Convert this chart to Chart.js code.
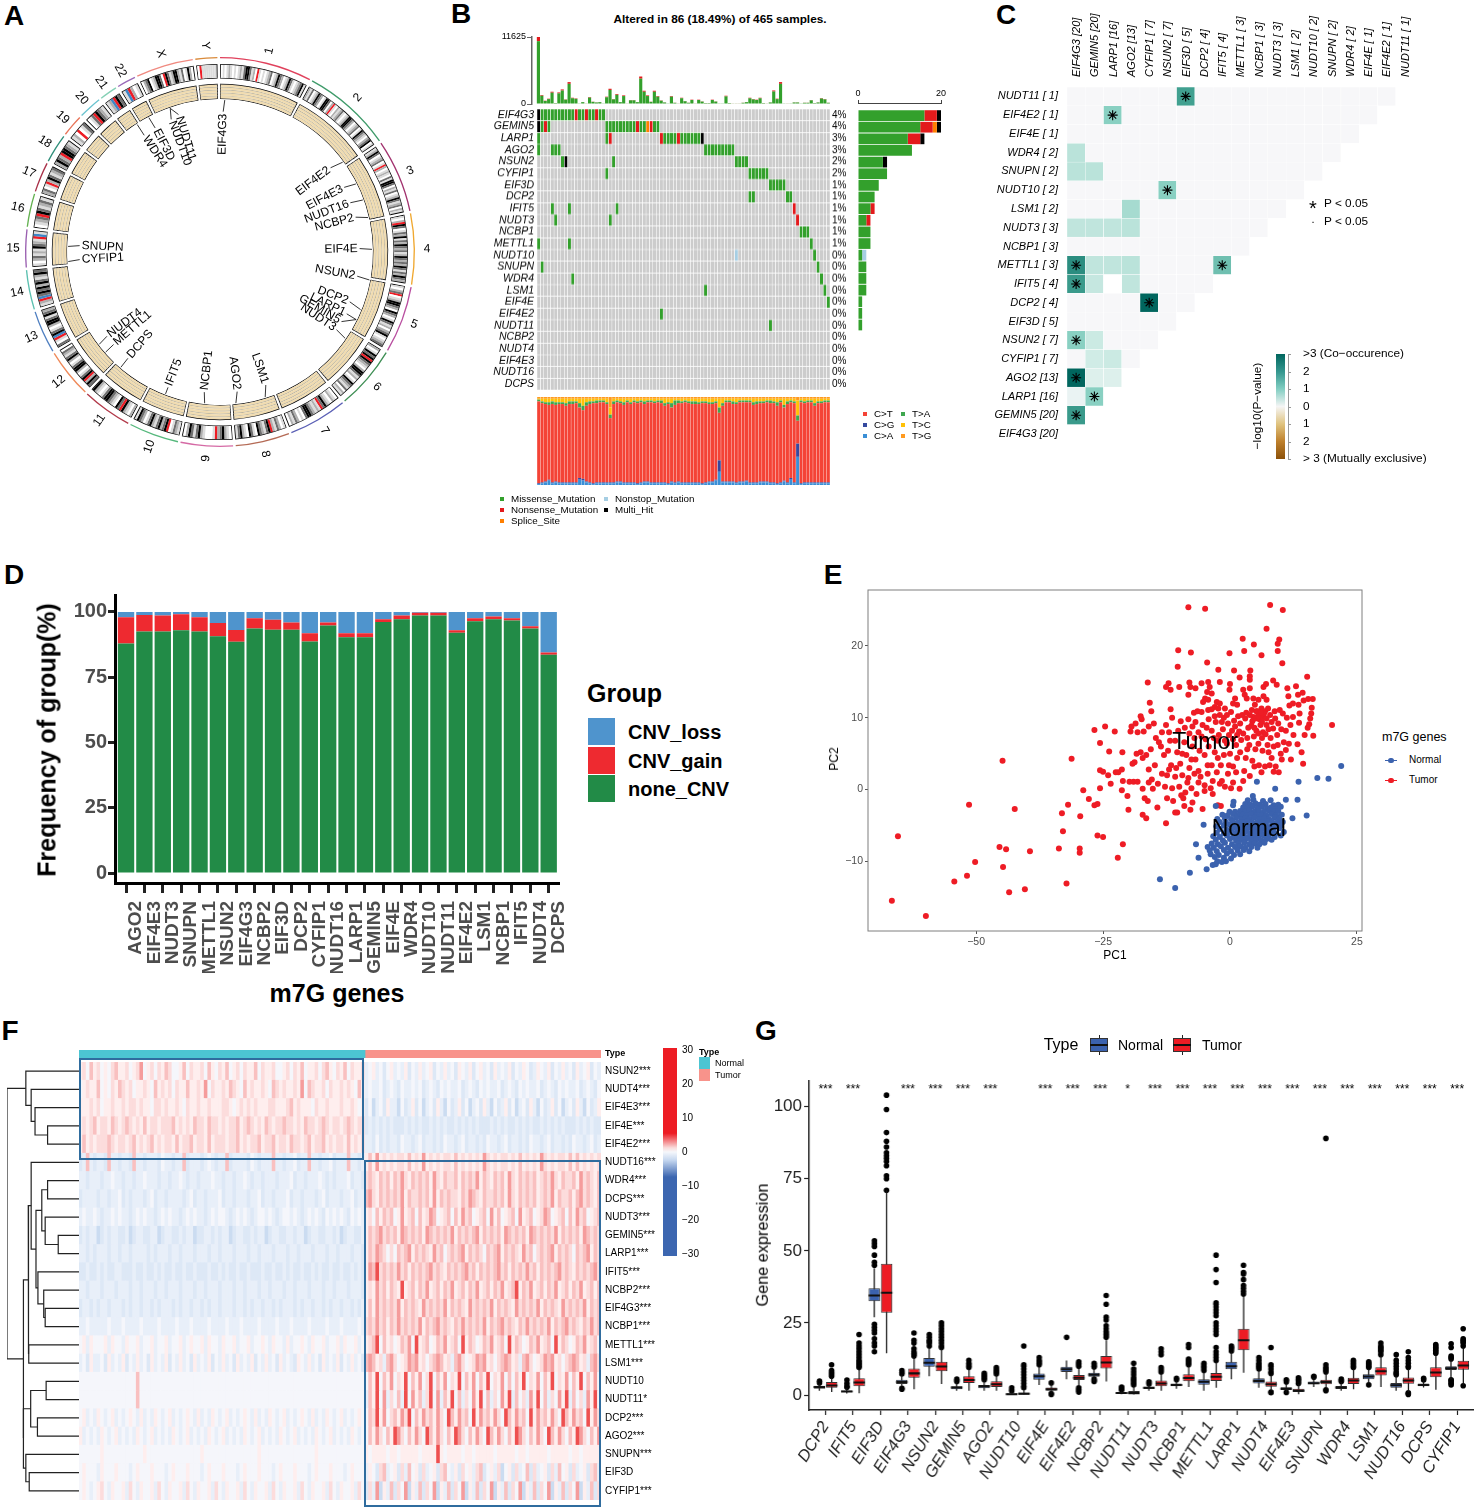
<!DOCTYPE html>
<html>
<head>
<meta charset="utf-8">
<script src="https://cdn.jsdelivr.net/npm/chart.js@4/dist/chart.umd.min.js"></script>
<style>
  html, body { margin: 0; background: #fff; }
  #page { position: relative; width: 1476px; height: 1509px; overflow: hidden; background: #fff; font-family: 'Liberation Sans', Arial, sans-serif; }
  #page canvas { position: absolute; }
  .t { position: absolute; white-space: nowrap; line-height: 1; color: #000; }
  .sw { position: absolute; }
</style>
</head>
<body>
<div id="page"></div>
<script>
// ---------- A: circos ----------
const chromNames = ['1','2','3','4','5','6','7','8','9','10','11','12','13','14','15','16','17','18','19','20','21','22','X','Y'];
const chromLengths = [249,243,198,191,181,171,159,146,141,135,135,133,115,107,102,90,81,78,59,63,48,51,155,59];
const chromGap = 7;
const chromBands = [
  'wlwlglwlwlgldkkdlgwrlwlwlgdwlgkdgwlgkdlwlgdkl',
  'gldwlgkdgwlkkdwgrlwglgdlwlgkkdgwlgdwlkdglwgdkwl',
  'lgkdwlgdwlrgwlglwdlkkdwgldwlgkdlgdwgl',
  'lwgrkdwldgkldgkdgdlgkdgdgkdldgkdg',
  'lwgdrwlgkkdgwkdgwlkdlgwgdklwlgd',
  'gwlkdkrkdglwgkkdlgwlkdgldwgl',
  'wlgwlgkdrlglgdkkdwlwgdlgw',
  'lwgdlgrkdlgdkwldkwlgkdl',
  'wlgkdgrlwwwlgkdldkgw',
  'lgdlwrkdgkdlgkdlwgdkl',
  'gwlgkrdkwlgdkkdlwlgk',
  'dkgrkdlwgkkdlwgkdlgdw',
  'dwlrbkdlwgkkdlkdg',
  'lgrbdkdkgkdlgkd',
  'lwgdlglkdglrbl',
  'wlgdrkdlgdl',
  'gdwlrgkdlgd',
  'gkdgrkkdgl',
  'lgwrwld',
  'wldrkdgl',
  'lgbrkd',
  'lbrgwl',
  'wgdkwlgkkdwrkdlgkkgldwlkgw',
  'wrlllllll'
];
const chromColors = ['#e0415c','#3f9b6a','#a2336f','#f0a830','#b94fa0','#3f8f55','#5a5fb5','#b46a55','#d56aa5','#55b87c','#b23a4a','#ef8a5a','#4f7fc0','#5cc0b0','#9a5fb0','#62b04f','#a83048','#2f8f7a','#e8755a','#6cc4d0','#85d0b5','#9a6ab8','#f08a80','#d98a3a'];
const bandColors = { w: '#ffffff', l: '#dcdcdc', g: '#b0b0b0', d: '#6f6f6f', k: '#000000', r: '#ee1c25', b: '#3f86c6' };
const geneNames = ['EIF4G3','EIF4E2','EIF4E3','NUDT16','NCBP2','EIF4E','NSUN2','DCP2','LARP1','GEMIN5','NUDT3','LSM1','AGO2','NCBP1','IFIT5','DCPS','METTL1','NUDT4','CYFIP1','SNUPN','WDR4','EIF3D','NUDT11','NUDT10'];
const geneLocusDeg = [1.8,53.8,63.4,70,76.9,89,100.6,112.3,116.4,116.4,124.6,162.7,174,185.8,201,220.7,228.8,232.6,266.4,272.1,327,332.1,340.9,340.9];
const geneLabelDeg = [1.3,52.7,62.5,69.3,75.6,88.6,100,111,116,119.8,123.7,161,173,186.4,201,220.9,229,233.3,266.9,272.6,327,332.4,343.2,339.8];
const geneLabelRad = [117.7,117,118,114,118,121,117,121,120,115,118,123,122,119,129,122,116,119,117.5,117.5,119.5,121,118.7,116];

// ---------- B: oncoplot ----------
const oncoGenes = ['EIF4G3','GEMIN5','LARP1','AGO2','NSUN2','CYFIP1','EIF3D','DCP2','IFIT5','NUDT3','NCBP1','METTL1','NUDT10','SNUPN','WDR4','LSM1','EIF4E','EIF4E2','NUDT11','NCBP2','NUDT4','EIF4E3','NUDT16','DCPS'];
const oncoPct = ['4%','4%','3%','3%','2%','2%','1%','1%','1%','1%','1%','1%','0%','0%','0%','0%','0%','0%','0%','0%','0%','0%','0%','0%'];
const oncoHits = [
  [[0,0,'H'],[1,10,'M'],[11,11,'N'],[12,13,'M'],[14,14,'N'],[15,16,'M'],[17,17,'N'],[18,19,'M']],
  [[0,0,'H'],[1,1,'M'],[2,2,'N'],[3,3,'M'],[20,28,'M'],[29,29,'N'],[30,31,'M'],[32,32,'S'],[33,33,'N'],[34,35,'M']],
  [[0,0,'M'],[20,20,'M'],[21,21,'N'],[36,36,'N'],[37,40,'M'],[41,41,'N'],[42,47,'M'],[48,48,'H']],
  [[0,0,'M'],[4,6,'M'],[49,57,'M']],
  [[7,7,'M'],[8,8,'H'],[22,22,'M'],[58,61,'M']],
  [[20,20,'M'],[62,67,'M']],
  [[68,72,'M']],
  [[62,63,'M'],[73,74,'M']],
  [[4,4,'M'],[9,9,'M'],[23,23,'M'],[75,75,'N']],
  [[5,5,'M'],[21,21,'M'],[76,76,'N']],
  [[77,79,'M']],
  [[0,0,'M'],[9,9,'M'],[80,80,'M']],
  [[58,58,'P'],[81,81,'M']],
  [[1,1,'M'],[82,82,'M']],
  [[10,10,'M'],[83,83,'M']],
  [[49,49,'M'],[84,84,'M']],
  [[85,85,'M']],
  [[36,36,'M']],
  [[68,68,'M']],
  [],[],[],[],[]
];
const tmbMissense = [10900,1430,530,850,1960,160,1850,2330,740,3500,1000,900,55,320,105,1110,370,265,320,55,1170,2440,800,1590,320,1380,105,640,640,320,4400,2120,1380,370,2120,1270,580,265,55,1270,210,105,1000,480,210,690,105,690,420,160,160,690,420,55,55,1325,160,105,105,105,210,320,1000,800,690,1000,160,105,265,2170,850,3500,55,105,55,265,265,55,210,210,640,160,265,950,800,210];
const tmbNonsense = [725,120,45,70,170,15,160,200,60,300,85,75,5,25,10,95,30,25,25,5,100,205,70,135,25,115,10,55,55,25,370,180,115,30,180,110,50,25,5,110,20,10,85,40,20,60,10,60,35,15,15,60,35,5,5,110,15,10,10,10,20,25,85,70,60,85,15,10,25,180,75,300,5,10,5,25,25,5,20,20,55,15,25,80,70,20];
const sideMissense = [16,15,12,13,6,7,5,4,3,2,3,3,1,2,2,2,1,1,1,0,0,0,0,0];
const sideNonsense = [3,3,3,0,0,0,0,0,1,1,0,0,0,0,0,0,0,0,0,0,0,0,0,0];
const sideSplice   = [0,1,0,0,0,0,0,0,0,0,0,0,0,0,0,0,0,0,0,0,0,0,0,0];
const sideNonstop  = [0,0,0,0,0,0,0,0,0,0,0,0,1,0,0,0,0,0,0,0,0,0,0,0];
const sideMulti    = [1,1,1,0,1,0,0,0,0,0,0,0,0,0,0,0,0,0,0,0,0,0,0,0];
const titvCA = [1,2,3,5,2,3,2,2,2,2,2,2,6,5,3,2,1,2,2,2,2,2,2,3,3,2,2,2,2,1,2,3,3,2,2,2,2,2,1,3,2,3,2,2,2,2,2,2,1,2,3,3,5,15,3,3,3,3,2,3,3,4,2,2,2,3,3,3,2,2,1,2,4,2,6,2,32,1,2,2,2,2,2,2,2,2];
const titvCG = [1,1,1,1,1,1,1,1,1,1,1,1,2,2,1,1,1,1,1,1,1,1,1,1,1,1,1,1,1,1,1,1,1,1,1,1,1,1,1,1,1,1,1,1,1,1,1,1,1,1,1,1,1,13,1,1,1,1,1,1,1,1,1,1,1,1,1,1,1,1,1,1,1,1,2,1,15,1,1,1,1,1,1,1,1,1];
const titvCT = [93,90,88,85,89,87,89,89,87,89,89,90,80,78,86,89,91,90,91,91,89,73,89,90,89,88,91,89,91,91,91,88,90,91,90,91,90,87,90,84,88,89,90,91,90,89,89,89,91,90,88,88,87,54,86,90,90,88,89,90,90,89,91,88,89,89,89,90,90,90,88,91,83,89,86,90,26,92,90,91,91,87,90,90,91,91];
const titvTA = [2,2,2,3,3,3,2,2,3,3,3,2,5,5,4,3,2,3,2,2,2,4,3,2,2,3,2,2,2,2,2,3,2,2,2,2,3,3,2,5,5,3,2,2,2,3,3,2,2,2,2,2,2,6,3,2,2,3,2,2,2,2,2,3,3,2,2,2,3,2,4,2,3,3,2,2,6,2,2,2,2,3,2,2,2,2];
const titvTC = [1,3,4,4,3,4,4,4,5,3,3,3,5,8,4,3,3,2,2,2,4,8,3,2,3,4,2,4,2,3,2,3,2,2,3,2,2,5,4,5,2,2,3,2,3,3,3,4,3,3,4,4,3,10,5,2,2,3,4,2,2,2,2,4,3,3,3,2,2,3,4,2,7,3,2,3,17,2,3,2,2,5,3,3,2,2];
const titvTG = [2,2,2,2,2,2,2,2,2,2,2,2,2,2,2,2,2,2,2,2,2,12,2,2,2,2,2,2,2,2,2,2,2,2,2,2,2,2,2,2,2,2,2,2,2,2,2,2,2,2,2,2,2,2,2,2,2,2,2,2,2,2,2,2,2,2,2,2,2,2,2,2,2,2,2,2,4,2,2,2,2,2,2,2,2,2];

// ---------- C: co-occurrence ----------
const coCols = ['EIF4G3 [20]','GEMIN5 [20]','LARP1 [16]','AGO2 [13]','CYFIP1 [ 7]','NSUN2 [ 7]','EIF3D [ 5]','DCP2 [ 4]','IFIT5 [ 4]','METTL1 [ 3]','NCBP1 [ 3]','NUDT3 [ 3]','LSM1 [ 2]','NUDT10 [ 2]','SNUPN [ 2]','WDR4 [ 2]','EIF4E [ 1]','EIF4E2 [ 1]','NUDT11 [ 1]'];
const coRows = ['NUDT11 [ 1]','EIF4E2 [ 1]','EIF4E [ 1]','WDR4 [ 2]','SNUPN [ 2]','NUDT10 [ 2]','LSM1 [ 2]','NUDT3 [ 3]','NCBP1 [ 3]','METTL1 [ 3]','IFIT5 [ 4]','DCP2 [ 4]','EIF3D [ 5]','NSUN2 [ 7]','CYFIP1 [ 7]','AGO2 [13]','LARP1 [16]','GEMIN5 [20]','EIF4G3 [20]'];
const coValues = [
  [0,0,0,0,0,0,2.1,0,0,0,0,0,0,0,0,0,0,0],
  [0,0,1.5,0,0,0,0,0,0,0,0,0,0,0,0,0,0],
  [0,0,0,0,0,0,0,0,0,0,0,0,0,0,0,0],
  [1,0,0,0,0,0,0,0,0,0,0,0,0,0,0],
  [1,1,0,0,0,0,0,0,0,0,0,0,0,0],
  [0,0,0,0,0,1.5,0,0,0,0,0,0,0],
  [0,0,0,1.2,0,0,0,0,0,0,0,0],
  [0.9,0.9,0.9,1,0,0,0,0,0,0,0],
  [0,0,0,0,0,0,0,0,0,0],
  [2.4,0.9,0.9,1,0,0,0,0,1.7],
  [2.2,0.8,null,0.9,0,0,0,0],
  [0,0,0,0,3,0,0],
  [0,0,0,0,0,0],
  [1.5,0.7,0,0,0],
  [0,0.6,0.7,0],
  [3,0.4,0.4],
  [0.2,1.5],
  [2.2],
  []
];
const coStars = [[0,6],[1,2],[5,5],[9,0],[9,8],[10,0],[11,4],[13,0],[15,0],[16,1],[17,0]];

// ---------- D: CNV ----------
const cnvGenes = ['AGO2','EIF4E3','NUDT3','SNUPN','METTL1','NSUN2','EIF4G3','NCBP2','EIF3D','DCP2','CYFIP1','NUDT16','LARP1','GEMIN5','EIF4E','WDR4','NUDT10','NUDT11','EIF4E2','LSM1','NCBP1','IFIT5','NUDT4','DCPS'];
const cnvNone = [87.9,92.5,92.5,93,92.5,90.7,88.6,93.7,93.2,93.2,88.7,94.8,90.3,90.3,96.2,97.2,98.6,98.6,92,96.4,97.2,96.7,93.7,83.6];
const cnvGain = [10.1,6.3,6.1,6.1,5.5,5.1,4.5,3.9,3.8,2.8,3.1,1.2,1.5,1.5,1,1.4,1.1,1.1,1,1.2,1.1,0.9,0.8,0.9];
const cnvLoss = [2,1.2,1.4,0.9,2,4.2,6.9,2.4,3,4,8.2,4,8.2,8.2,2.8,1.4,0.3,0.3,7,2.4,1.7,2.4,5.5,15.5];

// ---------- E: PCA ----------
const pcaTumor = [[-65.4,-6.5],[-66.6,-15.5],[-59.9,-17.6],[-54.3,-12.8],[-51.8,-12],[-50.2,-10.1],[-51.4,-2.1],[-44.8,4],[-45.4,-8],[-44.1,-8.3],[-44.7,-10.8],[-43.5,-14.3],[-42.4,-2.7],[-40.4,-13.9],[-39.4,-8.6],[-33.7,-8.2],[-32.9,-5.8],[-33.1,-3.3],[-32.2,-13.1],[-31.9,-2.1],[-31.2,4.3],[-29.6,-8.2],[-29.6,-8.8],[-29.5,-3.7],[-28.9,-0.1],[-27.8,-1.3],[-26.7,-2.2],[-26.1,-2],[-26.1,-6.4],[-25,-6.6],[-22.1,-9.5],[-21.1,-7.6],[-26.7,8.3],[-24.6,8.8],[-22.7,8.1],[-25.6,6.5],[-23.8,5.3],[-21.2,5.2],[-25.6,2.7],[-25,2.5],[-24,2],[-25.6,0.2],[-23.5,0.8],[-21.3,-0.1],[-22.5,2.4],[-22,2.4],[-21.3,2.8],[-21.1,1.2],
[-8.2,25.4],[-4.9,25.2],[7.9,25.7],[10.4,25],[7.2,22.4],[2.5,21],[4.7,20.2],[9.7,20.9],[9.4,20.3],[9.4,19.3],[2.8,19.3],[-0.1,19],[6.2,18.7],[-10.2,19.4],[-7.7,19.1],[-4.5,17.7],[10.3,17.6],[-10.3,17.1],[-2.3,16.7],[0.8,16.6],[4,16.6],[15.2,15.7],[1.9,15.6],[3.9,15.8],[3.9,15.3],[-16.2,14.9],[-12.1,14.8],[-12.6,14.3],[-11.7,13.9],[-10,14.3],[-8,14.9],[-7.8,14.3],[-8.2,13.2],[-6.8,14.1],[-5.6,14.8],[-4.3,15],[-4,14.3],[-4.5,13.6],[-3.6,13.4],[-4.9,12.7],[-4.3,12.5],[-5.3,12.2],[-2,15],[0,14.7],[-0.1,13.9],[2.6,13.9],[2.9,13.2],[3.3,12.7],[3.9,14.1],[6.6,14.3],[7.1,14.7],[8.5,15.2],[9.2,14.6],[11.3,14.1],[13,14.4],[11.5,13],[13.4,13.2],[14.3,13.5],[-15.8,12.1],[-15.5,10.9],[-11.7,11.2],[-2.6,12.2],[-2,12],[-3,11.5],[-2.3,11.3],[-3.6,11.2],[-4.3,11.1],[-1,11.3],[1,12.7],[1.4,11.8],[0.6,12],
[4.6,12.7],[5.6,12.5],[6.6,13],[7.2,12.5],[4.9,11.8],[4.3,11.1],[5.2,10.9],[6.2,11.3],[6.9,10.9],[7.5,11.3],[5.9,10.4],[4.6,10.1],[3.9,10.4],[6.6,10.1],[7.9,10.4],[8.8,10.9],[9.8,11.1],[10.4,10.6],[11.7,11.7],[12.4,12],[13.5,11.8],[14.5,12.4],[15.4,12.6],[16.3,12.6],[16.1,11.4],[16,10.6],[15.8,9.9],[15.6,9.1],[15.3,8.6],[13.7,10.6],[12.4,10.1],[11.2,10],[11.9,9],[13.6,9.3],[14.7,7.6],[16.4,7.5],[20.1,9],[13.3,6.3],[14.1,5.2],[14.4,3.6],[12,4.2],[11,5.5],[10.6,6.6],[10,5],[9,3.2],[9.6,2.4],[8.6,2.5],[10.2,4.2],[9.3,7.6],[8.5,8.5],[8,7.2],[7.2,9],[6.5,8],[6,9],[5.2,8.2],[4.4,9.5],[4.7,7.4],[3.6,8.6],[3,9.9],[2.6,7.8],[2,9.2],[1.6,10.2],[0.8,9.6],[0.4,8.2],[-0.4,9.2],[-1.2,10],[-1.4,8.4],[-2.2,7.6],[-2.8,9.4],[-3.6,8.2],[-4.2,9.8],[-4.8,7],[-5.6,10.8],[-6.4,10.9],[-7.1,10.7],[-7.4,8.8],[-8.2,9.8],[-8.9,8.6],[-9.7,9.5],[-10.2,8.2],[-11.4,10],[-12,8],[-12.6,9],[-14,6.6],[-14.6,7.2],[-15.6,5.6],[-16.5,4.8],[-17.2,4.4],[-17.6,5.2],[-18.4,5],[-18.8,3.8],[-19.2,3.6],[-17,8.1],[-17.4,9.8],[-17.6,10.2],[-18.6,9.2],[-19.4,8.8],[-18.2,8],[-19.6,8.1],
[-13.6,6],[-13,4.8],[-12.2,5.4],[-11.6,3.4],[-10.4,5.2],[-9.8,3.6],[-9,6.6],[-8.6,4.8],[-8,3],[-7.4,6],[-6.8,4.2],[-6.2,2.6],[-5.6,7.4],[-5,4.8],[-4.2,6],[-3.6,3.4],[-3,5.2],[-2.4,6.8],[-1.8,3.4],[-1.2,4.8],[-0.6,6.4],[0,5],[0.6,3.2],[1.2,6.2],[2,5.2],[2.8,2.6],[3.4,5.6],[3.9,1.9],[4.4,4],[5,5.6],[5.7,3.4],[6.4,5.4],[6.9,3.2],[7.6,5.2],[8.2,4.4],[8.6,6],
[-16,2.8],[-15.4,1.4],[-14.8,3.4],[-14.2,0.8],[-13.4,2.2],[-12.8,0.4],[-12,2.8],[-11.4,0.2],[-10.8,1.8],[-10,0.4],[-9.4,2],[-8.8,-0.4],[-8.2,1.6],[-7.6,0.2],[-7,2.2],[-6.6,-0.6],[-5.8,1.8],[-5,0.6],[-4.4,2.2],[-3.4,1.2],[-2.6,2.4],[-2,0.8],[-1.6,1.2],[0.2,0.2],[0.6,1],[1.9,0.1],[-19.8,1.1],[-19,1.1],[-18.2,1.1],[-17.2,0.1],[-16.8,-1.2],[-16.2,-1.6],[-16,1],[-15.2,0.1],[-20,-2.8],[-20.2,-0.9],[-17.2,-3.5],[-16.5,-4],[-14.3,-2.5],[-12.6,-4.7],[-10.8,-3.2],[-10.4,-3.2],[-9.6,-0.8],[-9,-2.3],[-7.8,-2.8],[-7.4,-1.8],[-5.4,-2.7],[-3.4,-0.6],[-2.4,-2.2],[-1.8,-2.3],[-12.4,-1.2],[-11.2,-1.6],[-9.2,-1.2],[-5,-0.2],
[5.4,10.9],[5.8,9.8],[6.3,9.4],[6.7,10.6],[7.2,9.9],[5,9.9],[5.5,10.2],[6.1,10.7],[4.2,8.9],[4.8,8.6],[5.6,7.8],[6.3,7.2],[7,7.7],[7.6,8.4],[8.2,9.4],[8.9,9.9],[9.5,9.2],[10.1,8.4],[3.4,7.2],[2.2,6.9],[1.4,7.6],[0.6,7],[-0.2,7.6],[-1,6.8],[1,8.8],[1.8,8.1],[2.4,10.4],[3.2,10.7],[-0.6,10.4],[0.2,10.8],[-2,10.4],[-3,10.2],[-4.6,8.6],[-5.4,9],[-6.2,8],[-6.8,9.4],[-7,7.2],[-8,7.8],[-3.2,7.2],[-1.6,9.4],[11,8.2],[12.5,7.6],[11.6,6.4],[9.4,6.2],[7.4,6.2],[5.6,6.4],[3.8,6.2],[3.1,4.4],[1.4,4.4],[-0.2,3.4],[4.8,3.2],[6.2,2.4],[7.8,3.4],[-2.4,4.4],[-4.4,3.4],[-6,5.4],[-7.6,4.2],[-9.4,5],[-10.8,6.8],[-11.8,6.8],[-13.4,8],[-15,9.2],[-16,8.8],[-12.4,2],[-10.6,3],[-8.4,1],[-6.2,1],[-3.8,0.2],[-1,0.4],[-0.4,2.2],[1.2,2.4],[2.6,1.2]
];
const pcaNormal = [[21.9,3.3],[17.2,1.6],[19.4,1.5],[5.3,1.1],[13.5,1.1],[8.9,0.1],[15.1,-3.6],[12.3,-4],[11,-1.4],[13.3,-1.4],[-13.8,-12.5],[-10.8,-13.7],[-7.9,-11.6],[-4.6,-11.1],[-6.7,-7.6],[-6.2,-9.5],[-5.2,-4.9],[-2.8,-2.3],
[4.5,-0.9],[3.5,-1.5],[4.6,-1.4],[6.5,-1.6],[8,-1.5],[0.7,-1.7],[0.6,-2.2],[3,-2],[4,-2.1],[5,-1.9],[5.8,-2.1],[7,-2],[8.6,-2.2],[9.5,-2.1],[-0.1,-3.1],[2.6,-2.5],[3.4,-2.6],[4.4,-2.4],[5.4,-2.6],[6.3,-2.4],[7.3,-2.6],[8.1,-2.5],[9.1,-2.7],[10,-2.4],[1,-3.1],[2,-3],[3,-3.1],[3.8,-2.9],[4.8,-3.1],[5.7,-3],[6.7,-3.1],[7.7,-2.9],[8.6,-3.1],[9.5,-3],[-1.5,-3.5],[-0.5,-3.6],[0.6,-3.4],[1.7,-3.6],[2.5,-3.5],[3.3,-3.6],[4.2,-3.4],[5.2,-3.6],[6.2,-3.5],[7.2,-3.6],[8.2,-3.4],[9.1,-3.6],[10.2,-3.5],[-2.5,-4.1],[-1,-4],[0.2,-4.1],[1.2,-3.9],[2.2,-4.1],[3,-4],[3.9,-4.1],[4.8,-3.9],[5.8,-4.1],[6.8,-4],[7.7,-4.1],[8.8,-3.9],[9.7,-4.1],[-2,-4.5],[-0.8,-4.6],[0.5,-4.4],[1.5,-4.6],[2.4,-4.5],[3.4,-4.4],[4.4,-4.6],[5.4,-4.5],[6.3,-4.6],[7.3,-4.4],[8.3,-4.5],[9.3,-4.6],[10.4,-4.5],[-2.7,-5.1],[-1.2,-5],[-0.1,-4.9],[1,-5.1],[2,-5],[3,-4.9],[4,-5.1],[5,-5],[6,-5.1],[7,-4.9],[8,-5.1],[9,-5],[10,-5],[-2,-5.5],[-0.7,-5.6],[0.5,-5.4],[1.5,-5.6],[2.5,-5.5],[3.5,-5.4],[4.5,-5.6],[5.5,-5.5],[6.5,-5.4],[7.5,-5.6],[8.5,-5.5],[9.7,-5.4],[-2.6,-6],[-1.2,-6.1],[0,-5.9],[1,-6.1],[2,-6],[3,-5.9],[4,-6.1],[5,-6],[6,-5.9],[7,-6.1],[8,-6],[9,-6.1],[10.6,-5.9],[-3.3,-6.5],[-2,-6.6],[-0.6,-6.4],[0.6,-6.6],[1.6,-6.5],[2.6,-6.4],[3.6,-6.6],[4.6,-6.5],[5.6,-6.6],[6.6,-6.4],[7.6,-6.5],[8.8,-6.6],[10,-6.4],[-2.8,-7],[-1.4,-7.1],[0,-6.9],[1.2,-7.1],[2.2,-7],[3.2,-6.9],[4.2,-7.1],[5.2,-7],[6.2,-7.1],[7.2,-6.9],[8.2,-7],[-3.6,-7.5],[-2.4,-7.6],[-1,-7.4],[0.4,-7.6],[1.6,-7.5],[2.8,-7.4],[3.8,-7.6],[4.8,-7.5],[5.8,-7.6],[6.8,-7.4],[-4.4,-8],[-3.2,-8.1],[-1.8,-7.9],[-0.4,-8.1],[1,-8],[2,-7.9],[3,-8.1],[4.2,-8],[5.4,-8.1],[-4,-8.5],[-2.6,-8.6],[-1.2,-8.4],[0.2,-8.6],[1.5,-8.5],[2.7,-8.4],[3.8,-8.6],[-3.8,-9],[-2.2,-9.1],[-0.6,-8.9],[0.8,-9.1],[2,-9],[-1.2,-9.5],[0.2,-9.6],[-3,-9.4],[-2.5,-10],[-1.6,-10.1],[-0.8,-10],[-3.4,-10.5],[-2.8,-10.4]
];

// ---------- F: heatmap ----------
const heatGenes = ['NSUN2***','NUDT4***','EIF4E3***','EIF4E***','EIF4E2***','NUDT16***','WDR4***','DCPS***','NUDT3***','GEMIN5***','LARP1***','IFIT5***','NCBP2***','EIF4G3***','NCBP1***','METTL1***','LSM1***','NUDT10','NUDT11*','DCP2***','AGO2***','SNUPN***','EIF3D','CYFIP1***'];
const heatNormal = [
  '56475645467556456845646576445746556475465745646557465564456465745564675465746556',
  '45655745465765645565475656465575565846556576547565565476565565847655646556565475',
  '55565645565565665655466565565465565565556654565656555665556756555465565556556545',
  '56567566576567656575665666756565766576656566756765657656676656576656765665676566',
  '57565666765665675656756566575667566575666566756566756675665766567566756566575656',
  '23732332733233273323332433233723332343233723333243233373323342337332334233373323',
  '33233323343323323343332332334323323334332332334323323332333423323334323233342332',
  '23333233233423233323423323333234233233342332333233423323334233233323423332334233',
  '34334323343433234343323434332343433234344323434323443432344343234343243434324343',
  '23233123233223123322331233223233122332323312332232331233223323312332233231233223',
  '33232333233233233332323332332333233323323332333233233323332332333233323323332332',
  '22322323223322232232232322322322322232232322322322232232232322322323223223223232',
  '33233323332333233233323323332333233233323332332333233233323323332333233233323332',
  '23323233233323233233232333232332332323323332332323323323233323233233232332332323',
  '33433333433343333433334333343334333343333433343333433334333433334333343334333343',
  '45354445354435445344534453445345445354435445344534454354435344543544534453544534',
  '34253342534352435342534352435342534352435342534352435342534325435342534352435342',
  '44444444444444447444444444444444444444444444444444444444444444444444444444444444',
  '44444444444444447444444444444444444444444444444444444444444444444444444444444444',
  '45343543453434543534354345343454353435434534345435343543453434543534354345343454',
  '53434354345343435434534343543453434354345343435434534343543453434354345343435434',
  '44444454444444444454444444444444445444444444444444544444444444444454444444444444',
  '45444354445444345444544434544454443454445444345444544434544454443454445444345444',
  '45434564354453643544536435445364354453643544536435445364354453643544536435445364'
];
const heatTumor = [
  '345342453435243534524353425435245342534352435423543524353425345243',
  '343342343243343423432434334234324343342343243433423432434334234324',
  '241342533142352413425314235241342531423524134253142352413425314235',
  '232323232223232322323232232323232223232322323232232323232223232322',
  '332423233243323423323243323423323243323423323243323423323243323423',
  '575856565665756585656566575656565865656656575656586565665757565656',
  '676576757686576767586576675767685765767586576767567686576675867657',
  '786576767685766767585767665768765766767586576767567685766757867657',
  '564757674585674756874567475867456748574567485674568745674758674567',
  '576786767587676758767676857676785767675876767587676768576767587676',
  '576876464767857676586746767857676476785767658674676785767647678576',
  '587967676867576767867657676786757676786757676867576767867657676786',
  '565867576595675768567576856757685675768567957685675768567576856757',
  '575867676857676586767685767658676768576765867676857676586767685767',
  '676867576867676857678676576867676857678676576867676857678676576867',
  '567947564576849567457685674957645768567495764576856749576457685674',
  '787563786456878564678756378645687856467875637864568785646787563786',
  '475947584659475846947584659475847594658474759465847594658475947584',
  '375948364739485736948375947364859473648593746385947364859374638594',
  '476958467586947586758649758674958675864975867495867586497586749586',
  '475864759864758649758647598647586497586475986475864975864759864758',
  '545555455455555455559545555455455555455555455455555455555455455555',
  '354267345263745263452674352645367245361452634726345263745263452673',
  '263815372648153726481537264815372648153726481537264815372648153726'
];
const heatPalette = ['#b3cbea','#cbdcf1','#dde8f6','#e8eff9','#f5f6fb','#feeeee','#fcdcdc','#f9c0c0','#f59c9c','#ee4f4f'];
const dendroMerges = [
  [3,0,4,0,65],[2,0,3.5,65,91],[1,0,2.75,91,99],[0,0,1.875,99,110],
  [6,0,7,0,65],[9,0,10,0,43],[8,0,9.5,43,70],[6.5,65,8.75,70,77],[13,0,14,0,70],[12,0,13.5,70,73],[11,0,12.75,73,85],[7.625,77,11.875,85,89],[5,0,9.75,89,99],[15,0,16,0,104],[7.375,99,15.5,104,105],
  [17,0,18,0,68],[19,0,20,0,86],[17.5,68,19.5,86,100],[22,0,23,0,103],[21,0,22.5,103,110],[18.5,100,21.75,110,115],[11.44,105,20.1,115,115],[0.94,110,15.77,115,149]
];

// ---------- G: box plots ----------
const boxGenes = ['DCP2','IFIT5','EIF3D','EIF4G3','NSUN2','GEMIN5','AGO2','NUDT10','EIF4E','EIF4E2','NCBP2','NUDT11','NUDT3','NCBP1','METTL1','LARP1','NUDT4','EIF4E3','SNUPN','WDR4','LSM1','NUDT16','DCPS','CYFIP1'];
const boxSig = ['***','***','','***','***','***','***','','***','***','***','*','***','***','***','***','***','***','***','***','***','***','***','***'];
const boxNormal = [[1.5,2.2,2.8,3.2,4],[0.5,1,1.2,1.6,2.5],[27,32.5,34.5,37,44],[3,3.8,4.5,5.3,7],[6.5,9.8,11.2,12.8,16.5],[1.5,2,2.6,3,4.5],[1.5,2.3,3,3.5,5],[0,0.1,0.3,0.6,1.2],[3.5,5.3,6.5,7.5,10],[5.5,8,8.9,9.8,12],[4.8,6.3,7,7.7,9.5],[0.3,0.4,0.7,0.9,1.5],[1.5,2.1,2.5,2.9,3.5],[2.2,3,3.5,4,5],[1.5,3.6,4.6,5.5,8],[5.5,8.9,10,11.5,15],[2.5,4,4.9,5.8,8.5],[0.8,1.7,2.2,2.7,4],[2.8,3.7,4.1,4.7,6],[1.5,2.1,2.6,3.1,4.5],[4,5.5,6.4,7.2,9],[1.5,2.5,3.4,4.2,6.5],[2.6,3,3.5,4,5],[5.5,8.7,9.3,10,12]];
const boxTumor = [[1,2.5,3.3,4.5,6],[0.6,3,4.3,5.8,9],[14.5,28.5,35.5,45.5,71],[2,6,7.5,9.2,13],[3.8,8.2,9.9,11.5,16],[1.5,4.2,5.2,6.5,9],[1.5,2.8,3.7,4.8,7],[0,0.1,0.4,0.9,2],[0.8,1.5,2,2.6,4],[3,5.2,6,6.9,9.5],[4.7,9.2,11.3,13.5,19],[0,0.2,0.7,1.4,3],[1.5,3,4,5,7.5],[2.8,4.8,5.9,7.2,10],[2.5,4.9,6.3,7.6,11.5],[7.7,15.5,19,23,34],[1.5,2.9,3.7,4.7,7],[0.3,1,1.5,2.2,3.8],[2.4,3.7,4.5,5.3,7.5],[2,3.8,5,6,9],[2.8,6.8,8.2,9.6,13.5],[1,3.9,5,6.1,9],[1.8,6.2,7.8,9.6,14],[3.5,8.8,10.2,11.9,16.5]];
const outNormal = [[4.2,4.8],[2.7,3,4,5.2],[15,17,18,19.5,21.5,22.5,23.5,24.5,45,46,48.5,51.5,52.5,53.5],[2,2.3,7.3,7.8,8.5],[17,18,18.5,19,20,21],[4.7,5,5.5],[5.3,5.8,6.3,6.8,7.5],[1.4,1.8,2.5],[10.5,11,11.5,12,13],[20],[4.7,5,5.5,9.7,10,10.5,11],[1.7,2,2.5,2.8],[3.8,4.2,4.6],[5.3,5.8],[8.5,9,9.5,10,10.5,11],[15.3,16,16.5,17],[9,9.5,10,10.5,11,12,13],[0.9,4.5,5,5.3],[6.2,6.5],[4.7,5,5.5],[3.5,9.5,10,10.5,11,11.5],[7,7.5,8,9,10,11,12,14],[5.2,5.8],[3.5,4,4.5,5,5.3,12.5,13,13.5,16.5,17.8]];
const outTumor = [[6.5,7,7.5,8,8.5,10.5],[9.5,10,10.5,11,11.5,12,13,14,15,16,17,18,21],[71,75,76,79.5,81,82,83,84,86,88,91,99,104],[13.5,14,14.5,15,16,18,19,21.5],[16.5,17,18,19,20,21,22,23,24,25],[9.5,10,10.5,11,12],[7.3,7.8,8.3,8.8,9.5],[2.5,3,4,5,6,7,8,9,10,10.5,17],[0.2,0.5,4.2],[1,1.5,2,2.5,10,10.5,11,11.5],[20,20.5,21,21.5,22,23,24,26,27,31.5,34.5],[3.5,4,4.5,5,5.5,6,7,8,9,11],[8,8.5,9,9.5,14,15,16],[10.5,11,11.5,12,12.5,16.5,17.5],[12,13,14,15,16.5,21,22,23,24,25,27.5,28.5,29.5,30.5,31.5,32,39,43.5,48.5],[35,36,37,38,40,42,42.5,45],[0.8,1,7.5,8,9,10,10.5,16.5],[4,4.5,5,5.5,6],[1.5,1.8,8,8.5,9,9.5,10.5,89],[9.5,10,10.5,11,11.5,12],[14,15,15.5,16,16.5,17,18],[0.2,0.5,0.8,9.5,10,11,12,13,15],[14.5,15,15.5,16,16.5,17,17.5],[3.2,17,18,18.5,19,19.5,23]];

// ---------- helpers ----------
const FONT = "'Liberation Sans', Arial, sans-serif";
const page = document.getElementById('page');
Chart.defaults.font.family = FONT;
Chart.defaults.color = '#000';

function text(str, x, y, o) {
  o = o || {};
  const el = document.createElement('div');
  el.className = 't';
  el.textContent = str;
  const ax = o.anchor === 'left' ? '0' : o.anchor === 'right' ? '-100%' : '-50%';
  el.style.left = x + 'px';
  el.style.top = y + 'px';
  el.style.fontSize = (o.size || 11) + 'px';
  if (o.bold) el.style.fontWeight = 'bold';
  if (o.italic) el.style.fontStyle = 'italic';
  if (o.color) el.style.color = o.color;
  el.style.transform = 'translate(' + ax + ',-50%)' + (o.rotate ? ' rotate(' + o.rotate + 'deg)' : '');
  page.appendChild(el);
}

function swatch(x, y, w, h, bg) {
  const el = document.createElement('div');
  el.className = 'sw';
  el.style.cssText = 'left:' + x + 'px;top:' + y + 'px;width:' + w + 'px;height:' + h + 'px;background:' + bg;
  page.appendChild(el);
  return el;
}

// plot rect is given exactly; margins (l,t,r,b) are room for the axes around it.
// every visible axis is pinned to the margin on its own side.
function plot(x, y, w, h, m, config) {
  const c = document.createElement('canvas');
  const cw = w + m[0] + m[2], ch = h + m[1] + m[3];
  c.width = cw; c.height = ch;
  c.style.left = (x - m[0]) + 'px';
  c.style.top = (y - m[1]) + 'px';
  c.style.width = cw + 'px';
  c.style.height = ch + 'px';
  page.appendChild(c);
  const o = config.options = config.options || {};
  const pad = { left: m[0], top: m[1], right: m[2], bottom: m[3] };
  Object.keys(o.scales || {}).forEach(id => {
    const s = o.scales[id];
    if (s.display === false) return;
    const pos = s.position || (id[0] === 'x' ? 'bottom' : 'left');
    const size = pad[pos];
    pad[pos] = 0;
    s.afterFit = sc => { if (sc.isHorizontal()) sc.height = size; else sc.width = size; };
  });
  o.responsive = false;
  o.animation = false;
  o.layout = { autoPadding: false, padding: pad };
  o.plugins = Object.assign({ legend: { display: false }, tooltip: { enabled: false } }, o.plugins);
  return new Chart(c, config);
}

const seq = n => Array.from({ length: n }, (_, i) => i);
const hidden = extra => Object.assign({ display: false }, extra);
const noGrid = { display: false, drawTicks: false };

// ---------- panel letters ----------
[['A',14,16],['B',461,14],['C',1006,15],['D',14,575],['E',833,575],['F',10,1031],['G',766,1031]].forEach(p => text(p[0], p[1], p[2], { size: 28, bold: true }));

// ---------- A ----------
(function () {
  const edge = 2.5;
  const clear = 'rgba(0,0,0,0)';
  const twoSeg = chromLengths.flatMap(l => [l, chromGap]);
  const fourSeg = chromLengths.flatMap(l => [edge, l - 2 * edge, edge, chromGap]);
  const plain = (col, weight) => ({
    data: twoSeg, weight: weight, borderWidth: 0,
    backgroundColor: chromLengths.flatMap(() => [col, clear])
  });
  const framed = (col, weight) => ({
    data: fourSeg, weight: weight, borderWidth: 0,
    backgroundColor: chromLengths.flatMap(() => ['#000', col, '#000', clear])
  });
  const bandData = [], bandBg = [];
  chromBands.forEach((b, i) => {
    bandData.push(edge); bandBg.push('#000');
    for (const ch of b) { bandData.push((chromLengths[i] - 2 * edge) / b.length); bandBg.push(bandColors[ch]); }
    bandData.push(edge); bandBg.push('#000');
    bandData.push(chromGap); bandBg.push(clear);
  });
  const datasets = [
    { data: twoSeg, weight: 1.3, backgroundColor: chromColors.flatMap(c => [c, clear]), borderWidth: 0 },
    plain(clear, 5.4),
    plain('#000', 0.7),
    { data: bandData, weight: 12.6, backgroundColor: bandBg, borderWidth: 0 },
    plain('#000', 0.7),
    plain(clear, 5.2),
    plain('#000', 0.7),
    framed('#f1dcb0', 2.1), framed('#b3aa90', 0.7),
    framed('#f1dcb0', 2.1), framed('#b3aa90', 0.7),
    framed('#f1dcb0', 2.1), framed('#b3aa90', 0.7),
    framed('#f1dcb0', 2.1), framed('#b3aa90', 0.7),
    framed('#f1dcb0', 2.1),
    plain('#000', 0.7)
  ];
  const labelsPlugin = {
    id: 'circosLabels',
    afterDraw(chart) {
      const { ctx } = chart;
      const meta = chart.getDatasetMeta(0);
      const cx = meta.data[0].x, cy = meta.data[0].y;
      ctx.save();
      ctx.fillStyle = '#000';
      ctx.textAlign = 'center';
      ctx.textBaseline = 'middle';
      const put = (label, deg, r) => {
        const a = deg * Math.PI / 180;
        ctx.save();
        ctx.translate(cx + r * Math.sin(a), cy - r * Math.cos(a));
        ctx.rotate(((deg <= 180 ? deg - 90 : deg + 90)) * Math.PI / 180);
        ctx.fillText(label, 0, 0);
        ctx.restore();
      };
      ctx.font = '12px ' + FONT;
      chromNames.forEach((n, i) => {
        const arc = meta.data[i * 2];
        const deg = ((arc.startAngle + arc.endAngle) / 2 + Math.PI / 2) * 180 / Math.PI;
        put(n, deg, 207);
      });
      ctx.font = '12px ' + FONT;
      ctx.strokeStyle = '#000';
      ctx.lineWidth = 0.8;
      geneNames.forEach((n, i) => {
        put(n, geneLabelDeg[i], geneLabelRad[i]);
        const r1 = 152, a1 = geneLocusDeg[i] * Math.PI / 180;
        const r2 = geneLabelRad[i] + ctx.measureText(n).width / 2 + 2, a2 = geneLabelDeg[i] * Math.PI / 180;
        ctx.beginPath();
        ctx.moveTo(cx + r1 * Math.sin(a1), cy - r1 * Math.cos(a1));
        ctx.lineTo(cx + r2 * Math.sin(a2), cy - r2 * Math.cos(a2));
        ctx.stroke();
      });
      ctx.restore();
    }
  };
  plot(25, 57, 390, 390, [25, 25, 25, 25], {
    type: 'doughnut',
    data: { datasets: datasets },
    options: { cutout: 153, rotation: 0 },
    plugins: [labelsPlugin]
  });
})();

// ---------- B ----------
text('Altered in 86 (18.49%) of 465 samples.', 720, 20, { size: 11.8, bold: true });
const mutColors = { M: '#33a02c', N: '#e31a1c', S: '#ff7f00', P: '#a6cee3', H: '#000000' };
const sampleCount = 86;

// top bars
plot(532, 36.5, 298, 67.5, [40, 10, 2, 10], {
  type: 'bar',
  data: {
    datasets: [
      { data: tmbMissense.map((v, i) => ({ x: i, y: v })), backgroundColor: '#33a02c' },
      { data: tmbNonsense.map((v, i) => ({ x: i, y: v })), backgroundColor: '#e31a1c' }
    ]
  },
  options: {
    datasets: { bar: { barPercentage: 0.92, categoryPercentage: 1 } },
    scales: {
      x: hidden({ type: 'linear', min: -1.88, max: 85.5, stacked: true, offset: false }),
      y: {
        stacked: true, min: 0, max: 11625,
        afterBuildTicks: s => { s.ticks = [{ value: 0 }, { value: 11625 }]; },
        border: { color: '#666', width: 1.5 },
        grid: { drawOnChartArea: false, tickLength: 5, tickColor: '#666', tickWidth: 1 },
        ticks: { font: { size: 9 }, color: '#000', padding: 1, callback: v => String(v) }
      }
    }
  }
});

// oncoplot matrix
(function () {
  const fill = oncoGenes.map((g, r) => {
    const col = Array(sampleCount).fill('#cccccc');
    oncoHits[r].forEach(h => { for (let i = h[0]; i <= h[1]; i++) col[i] = mutColors[h[2]]; });
    return col;
  });
  const rowsUp = seq(oncoGenes.length).reverse();
  plot(536.7, 109, 293.3, 280.5, [60, 10, 30, 10], {
    type: 'bar',
    data: {
      labels: seq(sampleCount),
      datasets: rowsUp.map(r => ({
        data: Array(sampleCount).fill(1),
        backgroundColor: fill[r],
        borderColor: '#fff',
        borderWidth: { top: 0.35, bottom: 0.35, left: 0, right: 0 },
        borderSkipped: false,
        inflateAmount: 0
      }))
    },
    options: {
      datasets: { bar: { barPercentage: 0.93, categoryPercentage: 1 } },
      scales: {
        x: hidden({ stacked: true }),
        y: hidden({ stacked: true, min: 0, max: oncoGenes.length }),
        yl: {
          type: 'category', position: 'left', labels: oncoGenes, offset: true,
          border: { display: false }, grid: noGrid,
          ticks: { font: { size: 10.5, style: 'italic' }, color: '#000', padding: 3, autoSkip: false }
        },
        yr: {
          type: 'category', position: 'right', labels: oncoPct, offset: true,
          border: { display: false }, grid: noGrid,
          ticks: { font: { size: 10 }, color: '#000', padding: 2, autoSkip: false }
        }
      }
    }
  });
})();

// side bars
(function () {
  const ser = (vals, col) => ({ data: vals.map((v, i) => ({ x: v, y: i })), backgroundColor: col });
  plot(858.3, 102.6, 83, 286.9, [8, 22, 12, 0], {
    type: 'bar',
    data: {
      datasets: [
        ser(sideMissense, mutColors.M), ser(sideNonsense, mutColors.N), ser(sideSplice, mutColors.S),
        ser(sideNonstop, mutColors.P), ser(sideMulti, mutColors.H)
      ]
    },
    options: {
      indexAxis: 'y',
      datasets: { bar: { barPercentage: 0.92, categoryPercentage: 1 } },
      scales: {
        y: hidden({ type: 'linear', reverse: true, min: -1.08, max: 23.5, stacked: true, offset: false }),
        x: {
          type: 'linear', position: 'top', stacked: true, min: 0, max: 20,
          afterBuildTicks: s => { s.ticks = [{ value: 0 }, { value: 20 }]; },
          border: { color: '#444', width: 1 },
          grid: { drawOnChartArea: false, tickLength: 3, tickColor: '#444', tickWidth: 1 },
          ticks: { font: { size: 9 }, color: '#000', padding: 1, maxRotation: 0 }
        }
      }
    }
  });
})();

// ti/tv stack
(function () {
  const ser = (vals, col) => ({ data: vals, backgroundColor: col });
  plot(536.7, 397, 293.3, 88, [0, 0, 0, 0], {
    type: 'bar',
    data: {
      labels: seq(sampleCount),
      datasets: [
        ser(titvCA, '#3a8fd6'), ser(titvCG, '#35499f'), ser(titvCT, '#f44336'),
        ser(titvTA, '#3fa74f'), ser(titvTC, '#ffc107'), ser(titvTG, '#ff9a1f')
      ]
    },
    options: {
      datasets: { bar: { barPercentage: 0.9, categoryPercentage: 1 } },
      scales: { x: hidden({ stacked: true }), y: hidden({ stacked: true, min: 0, max: 100 }) }
    }
  });
})();

[['Missense_Mutation', 502, 499, mutColors.M], ['Nonsense_Mutation', 502, 510, mutColors.N], ['Splice_Site', 502, 521, mutColors.S], ['Nonstop_Mutation', 606, 499, mutColors.P], ['Multi_Hit', 606, 510, mutColors.H]].forEach(l => {
  swatch(l[1] - 2, l[2] - 2, 4, 4, l[3]);
  text(l[0], l[1] + 9, l[2], { size: 9.8, anchor: 'left' });
});
[['C>T', 865, 414, '#f44336'], ['C>G', 865, 425, '#35499f'], ['C>A', 865, 436, '#3a8fd6'], ['T>A', 903, 414, '#3fa74f'], ['T>C', 903, 425, '#ffc107'], ['T>G', 903, 436, '#ff9a1f']].forEach(l => {
  swatch(l[1] - 2, l[2] - 2, 4, 4, l[3]);
  text(l[0], l[1] + 9, l[2], { size: 9.8, anchor: 'left' });
});

// ---------- C ----------
(function () {
  const stops = [[0, [247, 247, 249]], [0.5, [214, 238, 233]], [1, [186, 227, 218]], [1.5, [137, 208, 194]], [2, [72, 166, 150]], [2.5, [36, 135, 122]], [3, [1, 102, 94]]];
  const colorOf = v => {
    if (v === null) return '#ffffff';
    for (let i = 1; i < stops.length; i++) {
      if (v <= stops[i][0]) {
        const a = stops[i - 1], b = stops[i], t = (v - a[0]) / (b[0] - a[0]);
        return 'rgb(' + a[1].map((c, k) => Math.round(c + (b[1][k] - c) * t)).join(',') + ')';
      }
    }
    return 'rgb(1,102,94)';
  };
  const nRows = coRows.length, nCols = coCols.length;
  const rowsUp = seq(nRows).reverse();
  const datasets = rowsUp.map(r => ({
    data: Array(nCols).fill(1),
    backgroundColor: seq(nCols).map(k => k < coValues[r].length ? colorOf(coValues[r][k]) : 'rgba(255,255,255,0)'),
    borderColor: '#fff',
    borderWidth: 0.5,
    order: 2
  }));
  datasets.push({
    type: 'scatter',
    data: coStars.map(s => ({ x: coCols[s[1]], y: nRows - s[0] - 0.5 })),
    pointStyle: 'star', radius: 5, borderColor: '#000', borderWidth: 1.1, backgroundColor: '#000', order: 1
  });
  plot(1067, 87, 347, 362, [80, 80, 10, 10], {
    type: 'bar',
    data: { labels: coCols, datasets: datasets },
    options: {
      datasets: { bar: { barPercentage: 1, categoryPercentage: 1 } },
      scales: {
        x: {
          position: 'top', stacked: true,
          border: { display: false }, grid: noGrid,
          ticks: { font: { size: 11, style: 'italic' }, color: '#000', padding: 10, minRotation: 90, maxRotation: 90, autoSkip: false, labelOffset: 14 }
        },
        y: hidden({ stacked: true, min: 0, max: nRows }),
        yl: {
          type: 'category', position: 'left', labels: coRows, offset: true,
          border: { display: false }, grid: noGrid,
          ticks: { font: { size: 11, style: 'italic' }, color: '#000', padding: 9, autoSkip: false }
        }
      }
    }
  });
})();
text('*', 1313, 208, { size: 20 });
text('P < 0.05', 1324, 204, { size: 11.8, anchor: 'left' });
text('.', 1313, 219, { size: 11 });
text('P < 0.05', 1324, 222, { size: 11.8, anchor: 'left' });
swatch(1276, 354, 9, 105, 'linear-gradient(to bottom,#01665e,#35978f 17%,#80cdc1 33%,#f5f5f5 50%,#dfc27d 67%,#bf812d 83%,#8c510a)');
swatch(1288, 354, 1, 105, '#999');
[['>3 (Co\u2212occurence)', 354], ['2', 371.5], ['1', 389], ['0', 406.5], ['1', 424], ['2', 441.5], ['> 3 (Mutually exclusive)', 459]].forEach(l => {
  swatch(1288, l[1], 3, 1, '#999');
  text(l[0], 1303, l[1], { size: 11.8, anchor: 'left' });
});
text('\u2212log10(P\u2212value)', 1258, 406, { size: 11.8, rotate: -90 });

// ---------- D ----------
(function () {
  const ser = (vals, col) => ({ data: vals.map((v, i) => ({ x: i, y: v })), backgroundColor: col });
  plot(115, 595, 445, 288, [60, 20, 20, 90], {
    type: 'bar',
    data: { datasets: [ser(cnvNone, '#228b47'), ser(cnvGain, '#ee2a30'), ser(cnvLoss, '#4f94cd')] },
    options: {
      datasets: { bar: { barPercentage: 0.89, categoryPercentage: 1 } },
      scales: {
        x: {
          type: 'linear', stacked: true, min: -0.6, max: 23.6, offset: false,
          border: { color: '#000', width: 3 },
          grid: { offset: false, drawOnChartArea: false, tickLength: 10, tickColor: '#222', tickWidth: 3 },
          ticks: { stepSize: 1, includeBounds: false, autoSkip: false, callback: v => cnvGenes[v], font: { size: 19, weight: 'bold' }, color: '#4d4d4d', padding: 8, minRotation: 90, maxRotation: 90, labelOffset: 10 }
        },
        y: {
          stacked: true, min: -3.83, max: 106.5,
          border: { color: '#000', width: 3 },
          grid: { drawOnChartArea: false, tickLength: 7, tickColor: '#222', tickWidth: 3 },
          ticks: { stepSize: 25, includeBounds: false, font: { size: 20, weight: 'bold' }, color: '#4d4d4d', padding: 1 }
        }
      }
    }
  });
})();
text('Frequency of group(%)', 47, 740, { size: 25, bold: true, rotate: -90 });
text('m7G genes', 337, 993, { size: 25, bold: true });
text('Group', 587, 693, { size: 25, bold: true, anchor: 'left' });
[['CNV_loss', 718, '#4f94cd'], ['CNV_gain', 747, '#ee2a30'], ['none_CNV', 775, '#228b47']].forEach(l => {
  swatch(588, l[1], 27, 27, l[2]);
  text(l[0], 628, l[1] + 14, { size: 20, bold: true, anchor: 'left' });
});

// ---------- E ----------
(function () {
  const boxPlugin = {
    id: 'pcaExtras',
    afterDraw(chart) {
      const { ctx, chartArea: a, scales } = chart;
      ctx.save();
      ctx.strokeStyle = '#7f7f7f';
      ctx.lineWidth = 1;
      ctx.strokeRect(a.left, a.top, a.width, a.height);
      ctx.fillStyle = '#000';
      ctx.font = '23px ' + FONT;
      ctx.textAlign = 'center';
      ctx.textBaseline = 'middle';
      ctx.fillText('Tumor', scales.x.getPixelForValue(-4.9), scales.y.getPixelForValue(6.6));
      ctx.fillText('Normal', scales.x.getPixelForValue(3.7), scales.y.getPixelForValue(-5.6));
      ctx.restore();
    }
  };
  const tick = { drawOnChartArea: false, tickLength: 3, tickColor: '#555', tickWidth: 1 };
  plot(868, 590, 494, 341, [30, 15, 15, 22], {
    type: 'scatter',
    data: {
      datasets: [
        { data: pcaNormal.map(p => ({ x: p[0], y: p[1] })), backgroundColor: '#3b62ae', radius: 3, borderWidth: 0 },
        { data: pcaTumor.map(p => ({ x: p[0], y: p[1] })), backgroundColor: '#ee1c25', radius: 3, borderWidth: 0 }
      ]
    },
    options: {
      scales: {
        x: {
          min: -71.3, max: 26, border: { display: false }, grid: tick,
          ticks: { stepSize: 25, includeBounds: false, maxRotation: 0, font: { size: 10.5 }, color: '#4d4d4d', padding: 2, callback: v => String(v).replace('-', '\u2212') }
        },
        y: {
          min: -19.7, max: 27.8, border: { display: false }, grid: tick,
          ticks: { stepSize: 10, includeBounds: false, font: { size: 10.5 }, color: '#4d4d4d', padding: 2, callback: v => String(v).replace('-', '\u2212') }
        }
      }
    },
    plugins: [boxPlugin]
  });
})();
text('PC1', 1115, 955, { size: 12 });
text('PC2', 834, 759, { size: 12, rotate: -90 });
text('m7G genes', 1382, 737, { size: 12.5, anchor: 'left' });
[['Normal', 760, '#3b62ae'], ['Tumor', 780, '#ee1c25']].forEach(l => {
  swatch(1385, l[1] - 0.5, 12, 1.5, l[2]);
  const dot = swatch(1388, l[1] - 2.5, 5.5, 5.5, l[2]);
  dot.style.borderRadius = '50%';
  text(l[0], 1409, l[1], { size: 10, anchor: 'left' });
});

// ---------- F ----------
plot(79, 1050, 522, 8, [0, 10, 30, 10], {
  type: 'bar',
  data: {
    labels: ['Type'],
    datasets: [{ data: [80], backgroundColor: '#4cc5d2' }, { data: [66], backgroundColor: '#f8938b' }]
  },
  options: {
    indexAxis: 'y',
    datasets: { bar: { barPercentage: 1, categoryPercentage: 1 } },
    scales: {
      x: hidden({ stacked: true, min: 0, max: 146 }),
      y: {
        position: 'right', stacked: true, border: { display: false }, grid: noGrid,
        ticks: { font: { size: 9, weight: 'bold' }, color: '#000', padding: 4 }
      }
    }
  }
});
(function () {
  const nNorm = 80, nTum = 66, nAll = nNorm + nTum;
  const rowsUp = seq(heatGenes.length).reverse();
  const colours = r => {
    const s = heatNormal[r].padEnd(nNorm, '4').slice(0, nNorm) + heatTumor[r].padEnd(nTum, '5').slice(0, nTum);
    return Array.from(s, ch => heatPalette[+ch]);
  };
  plot(79, 1062, 522, 438, [0, 10, 70, 10], {
    type: 'bar',
    data: {
      labels: seq(nAll),
      datasets: rowsUp.map(r => ({ data: Array(nAll).fill(1), backgroundColor: colours(r), borderWidth: 0 }))
    },
    options: {
      datasets: { bar: { barPercentage: 1, categoryPercentage: 1 } },
      scales: {
        x: hidden({ stacked: true }),
        y: hidden({ stacked: true, min: 0, max: heatGenes.length }),
        yr: {
          type: 'category', position: 'right', labels: heatGenes, offset: true,
          border: { display: false }, grid: noGrid,
          ticks: { font: { size: 10 }, color: '#000', padding: 4, autoSkip: false }
        }
      }
    }
  });
})();
// dendrogram
plot(7, 1062, 72, 438, [2, 2, 1, 2], {
  type: 'scatter',
  data: {
    datasets: dendroMerges.map(m => ({
      data: [
        { x: m[1], y: m[0] + 0.5 }, { x: m[4], y: m[0] + 0.5 },
        { x: m[4], y: m[2] + 0.5 }, { x: m[3], y: m[2] + 0.5 }
      ],
      showLine: true, borderColor: '#222', borderWidth: 1.2, radius: 0, tension: 0
    }))
  },
  options: {
    scales: {
      x: hidden({ reverse: true, min: 0, max: 149 }),
      y: hidden({ reverse: true, min: 0, max: 24 })
    }
  }
});
[[79, 1058, 285, 102], [364, 1160, 237, 347]].forEach(b => {
  const el = swatch(b[0], b[1], b[2], b[3], 'transparent');
  el.style.border = '2px solid #2f6c9e';
  el.style.boxSizing = 'border-box';
});
swatch(663, 1048, 14, 208, 'linear-gradient(to bottom,#ed1c24,#ed1c24 41%,#f9dcdc 48%,#f5f7fb 50%,#c4d6ef 54%,#3c66b0 62%,#3c66b0)');
[['30', 1050], ['20', 1084], ['10', 1118], ['0', 1152], ['\u221210', 1186], ['\u221220', 1220], ['\u221230', 1254]].forEach(l => text(l[0], 682, l[1], { size: 10, anchor: 'left' }));
text('Type', 699, 1052, { size: 9, bold: true, anchor: 'left' });
swatch(699, 1057, 11, 12, '#4cc5d2');
swatch(699, 1069, 11, 12, '#f8938b');
text('Normal', 715, 1063, { size: 9, anchor: 'left' });
text('Tumor', 715, 1075, { size: 9, anchor: 'left' });

// ---------- G ----------
(function () {
  const floating = (rows, lo, hi) => rows.map((b, i) => ({ x: i, y: [b[lo], b[hi]] }));
  const group = (rows, stack, fill) => [
    { data: rows.map((b, i) => ({ x: i, y: [b[2] - 0.35, b[2] + 0.35] })), stack: stack, backgroundColor: '#111', barPercentage: 0.93, order: 1 },
    { data: floating(rows, 1, 3), stack: stack, backgroundColor: fill, borderColor: '#333', borderWidth: 1, borderSkipped: false, barPercentage: 0.93, order: 2 },
    { data: floating(rows, 0, 4), stack: stack, backgroundColor: '#111', barPercentage: 0.1, order: 3 }
  ];
  const outliers = (rows, dx) => ({
    type: 'scatter',
    data: rows.flatMap((vals, i) => vals.map(v => ({ x: i + dx, y: v }))),
    backgroundColor: '#000', radius: 2.8, borderWidth: 0, order: 4
  });
  const sigPlugin = {
    id: 'sigStars',
    afterDraw(chart) {
      const { ctx, scales } = chart;
      ctx.save();
      ctx.fillStyle = '#000';
      ctx.font = '12px ' + FONT;
      ctx.textAlign = 'center';
      ctx.textBaseline = 'middle';
      boxSig.forEach((s, i) => ctx.fillText(s, scales.x.getPixelForValue(i), scales.y.getPixelForValue(105.8)));
      ctx.restore();
    }
  };
  plot(809, 1081, 665.5, 329, [50, 20, 2, 95], {
    type: 'bar',
    data: {
      datasets: group(boxNormal, 'N', '#3b62ae').concat(group(boxTumor, 'T', '#ed1c24'), [outliers(outNormal, -0.22), outliers(outTumor, 0.22)])
    },
    options: {
      datasets: { bar: { categoryPercentage: 0.9 } },
      scales: {
        x: {
          type: 'linear', min: -0.6, max: 23.6, offset: false,
          border: { color: '#222', width: 1.5 },
          grid: { offset: false, drawOnChartArea: false, tickLength: 5, tickColor: '#222', tickWidth: 1.2 },
          ticks: { stepSize: 1, includeBounds: false, autoSkip: false, callback: v => boxGenes[v], font: { size: 16.5, style: 'italic' }, color: '#222', padding: 3, minRotation: 58, maxRotation: 58 }
        },
        y: {
          stacked: false, min: -5.2, max: 108.9,
          border: { color: '#222', width: 1.5 },
          grid: { drawOnChartArea: false, tickLength: 5, tickColor: '#222', tickWidth: 1.2 },
          ticks: { stepSize: 25, includeBounds: false, font: { size: 17 }, color: '#222', padding: 2 }
        }
      }
    },
    plugins: [sigPlugin]
  });
})();
text('Gene expression', 762, 1245, { size: 16.3, rotate: -90 });
text('Type', 1061, 1045, { size: 16 });
[['Normal', 1090, 1118, '#3b62ae'], ['Tumor', 1173, 1202, '#ed1c24']].forEach(l => {
  swatch(l[1] + 9, 1035, 1, 20, '#222');
  const b = swatch(l[1], 1038, 18, 14, l[3]);
  b.style.border = '1px solid #333';
  b.style.boxSizing = 'border-box';
  swatch(l[1], 1044, 18, 2, '#111');
  text(l[0], l[2], 1045, { size: 14, anchor: 'left' });
});
</script>
</body>
</html>
